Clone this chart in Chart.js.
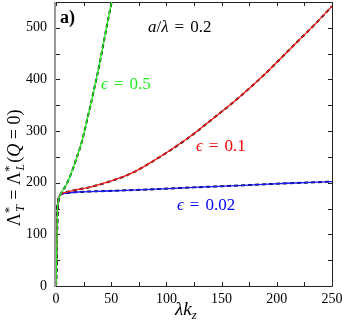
<!DOCTYPE html>
<html><head><meta charset="utf-8">
<script src="https://cdn.jsdelivr.net/npm/chart.js@4/dist/chart.umd.min.js"></script>
<style>html,body{margin:0;padding:0;background:#fff}#wrap{width:342px;height:327px}</style>
</head><body><div id="wrap"><canvas id="c" width="342" height="327"></canvas></div>
<script>
// ---- data ----
const xTicks = [0, 50, 100, 150, 200, 250];
const yTicks = [0, 100, 200, 300, 400, 500];

const kz_eps05  = [0, 0.5, 1.0, 1.3, 2, 2.7, 4, 5.7, 8, 10.2, 13, 16.3, 19, 22.4, 25.5, 28.4, 31.5, 34.4, 37, 40, 45, 50.4, 53];
const val_eps05 = [0, 50, 110, 147, 163, 172, 177, 184, 191, 200, 214, 233, 250, 272, 297, 324, 352, 380, 405, 436, 492, 550, 578];

const kz_eps01  = [0, 0.5, 1.0, 1.3, 2, 2.7, 4, 5, 10, 20, 30, 46.5, 67, 85, 120, 142, 163, 190, 205, 220, 236, 250];
const val_eps01 = [0, 50, 110, 147, 163, 172, 177, 179, 182, 187, 191, 201, 217, 238, 287, 324, 360, 412, 444, 476, 510, 542];

const kz_eps002  = [0, 0.5, 1.0, 1.3, 2, 2.7, 4, 5, 10, 20, 46.5, 85, 125, 170, 210, 250];
const val_eps002 = [0, 50, 110, 147, 163, 172, 177, 178, 180, 182, 184, 187, 191, 195, 199, 202];

const seriesColors = ['#22ee22', '#ff1a1a', '#1a1aff'];
const labelColors = ['#22ee22', '#ff0000', '#0000ff'];

// ---- build ----
const pts = (xs, ys) => xs.map((x, i) => ({x: x, y: ys[i]}));
const S = [[kz_eps05, val_eps05], [kz_eps01, val_eps01], [kz_eps002, val_eps002]];
const datasets = [];
S.forEach((s, i) => {
  datasets.push({data: pts(s[0], s[1]), borderColor: seriesColors[i], borderWidth: 1.3,
    pointRadius: 0, fill: false, cubicInterpolationMode: 'monotone'});
});
S.forEach((s, i) => {
  datasets.push({data: pts(s[0], s[1]), borderColor: '#000', borderWidth: 2, borderDash: [4, 3],
    pointRadius: 0, fill: false, cubicInterpolationMode: 'monotone'});
});

const SERIF = '"Liberation Serif", "Times New Roman", "DejaVu Serif", serif';
function rich(ctx, pieces) {
  let w = 0;
  pieces.forEach(p => { ctx.font = p.f; w += ctx.measureText(p.t).width + (p.sp || 0); });
  return w;
}
function drawRich(ctx, pieces, x, y, color) {
  ctx.fillStyle = color; ctx.textBaseline = 'alphabetic'; ctx.textAlign = 'left';
  let cx = x;
  pieces.forEach(p => {
    ctx.font = p.f;
    ctx.fillText(p.t, cx, y + (p.dy || 0));
    cx += ctx.measureText(p.t).width + (p.sp || 0);
  });
}
const it = s => 'italic ' + s + 'px ' + SERIF;
const rm = s => s + 'px ' + SERIF;
const epsLabel = v => [{t: 'ϵ', f: it(17), sp: 6}, {t: '=', f: rm(17), sp: 6}, {t: v, f: rm(17)}];

const frame = {
  id: 'frame',
  beforeDatasetsDraw(chart) {
    const ctx = chart.ctx, ca = chart.chartArea, xs = chart.scales.x, ys = chart.scales.y;
    ctx.save();
    ctx.lineWidth = 1; ctx.strokeStyle = '#222';
    ctx.beginPath();
    ctx.moveTo(ca.left, ca.top + 0.5); ctx.lineTo(ca.right + 0.5, ca.top + 0.5);
    ctx.lineTo(ca.right + 0.5, ca.bottom + 0.5); ctx.lineTo(ca.left, ca.bottom + 0.5);
    ctx.stroke();
    ctx.strokeStyle = '#999'; ctx.lineWidth = 2;
    ctx.beginPath(); ctx.moveTo(ca.left - 1, ca.top); ctx.lineTo(ca.left - 1, ca.bottom + 1); ctx.stroke();
    ctx.strokeStyle = '#222'; ctx.lineWidth = 1;
    const L = 4;
    for (let v = 0; v <= 250; v += 25) {
      const px = Math.round(xs.getPixelForValue(v)) + 0.5;
      ctx.beginPath();
      ctx.moveTo(px, ca.bottom); ctx.lineTo(px, ca.bottom - L);
      ctx.moveTo(px, ca.top); ctx.lineTo(px, ca.top + L);
      ctx.stroke();
    }
    for (let v = 0; v <= 550; v += 50) {
      const py = Math.round(ys.getPixelForValue(v)) + 0.5;
      ctx.beginPath();
      ctx.moveTo(ca.left, py); ctx.lineTo(ca.left + L, py);
      ctx.moveTo(ca.right, py); ctx.lineTo(ca.right - L, py);
      ctx.stroke();
    }
    ctx.restore();
  },
  afterDraw(chart) {
    const ctx = chart.ctx;
    ctx.save();
    drawRich(ctx, [{t: 'a)', f: 'bold 18px ' + SERIF}], 60, 23, '#000');
    drawRich(ctx, [{t: 'a', f: it(17)}, {t: '/', f: rm(17)}, {t: 'λ', f: it(17), sp: 6}, {t: '=', f: rm(17), sp: 6}, {t: '0.2', f: rm(17)}], 148, 32, '#000');
    drawRich(ctx, epsLabel('0.5'), 101, 89, labelColors[0]);
    drawRich(ctx, epsLabel('0.1'), 196, 151, labelColors[1]);
    drawRich(ctx, epsLabel('0.02'), 177, 210, labelColors[2]);
    drawRich(ctx, [{t: 'λk', f: it(19)}, {t: 'z', f: it(13), dy: 4}], 175, 315, '#000');
    const yp = [{t: 'Λ', f: rm(18)}, {t: '*', f: rm(13), dy: -7, sp: -5}, {t: 'T', f: it(12), dy: 4, sp: 1},
                {t: ' = ', f: rm(18)}, {t: 'Λ', f: rm(18)}, {t: '*', f: rm(13), dy: -7, sp: -5}, {t: 'L', f: it(12), dy: 4, sp: 1},
                {t: '(', f: rm(18)}, {t: 'Q', f: it(18)}, {t: ' = ', f: rm(18)}, {t: '0)', f: rm(18)}];
    const w = rich(ctx, yp);
    ctx.translate(20, 168); ctx.rotate(-Math.PI / 2);
    drawRich(ctx, yp, -w / 2, 0, '#000');
    ctx.restore();
  }
};

function build() {
  new Chart(document.getElementById('c'), {
    type: 'line',
    data: {datasets: datasets},
    options: {
      responsive: false, animation: false, devicePixelRatio: 1,
      layout: {padding: {top: 2, right: 10, left: 0, bottom: 0}},
      plugins: {legend: {display: false}, tooltip: {enabled: false}},
      scales: {
        x: {type: 'linear', min: 0, max: 250,
          afterBuildTicks: s => { s.ticks = xTicks.map(v => ({value: v})); },
          afterFit: s => { s.height = 41; s.paddingLeft = 0; s.paddingRight = 0; },
          grid: {display: false, drawTicks: false}, border: {display: false},
          ticks: {color: '#000', padding: 5, maxRotation: 0, font: {family: SERIF, size: 14}}},
        y: {type: 'linear', min: 0, max: 550,
          afterBuildTicks: s => { s.ticks = yTicks.map(v => ({value: v})); },
          afterFit: s => { s.width = 56; s.paddingTop = 0; s.paddingBottom = 0; },
          grid: {display: false, drawTicks: false}, border: {display: false},
          ticks: {color: '#000', padding: 9, font: {family: SERIF, size: 14}}}
      }
    },
    plugins: [frame]
  });
}
let done = false;
function go() { if (!done) { done = true; build(); } }
if (document.fonts && document.fonts.load) {
  Promise.all([
    document.fonts.load('14px "Liberation Serif"'),
    document.fonts.load('italic 17px "Liberation Serif"'),
    document.fonts.load('bold 18px "Liberation Serif"')
  ]).then(go, go);
  setTimeout(go, 300);
} else { go(); }
</script></body></html>
